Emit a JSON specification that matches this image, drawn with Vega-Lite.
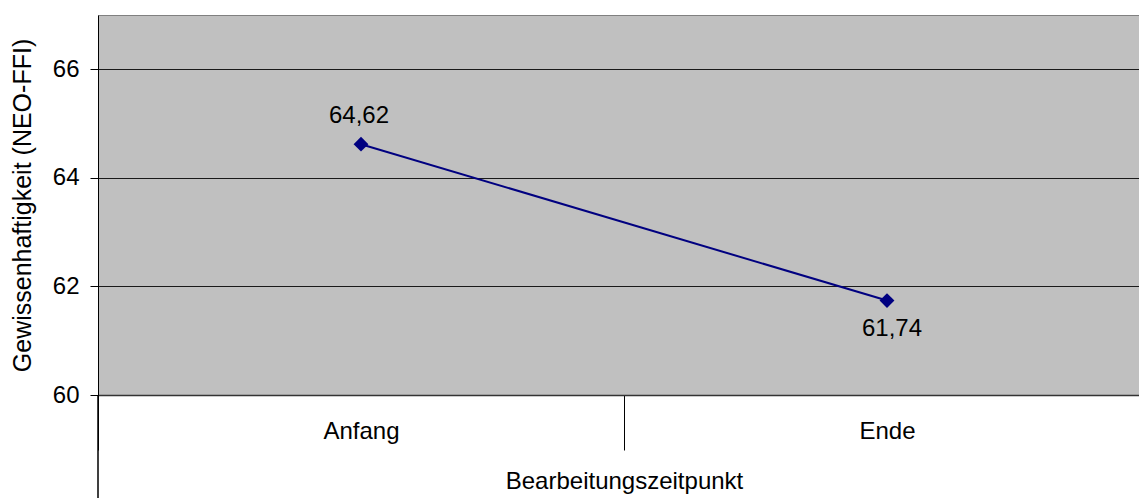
{
  "$schema": "https://vega.github.io/schema/vega-lite/v6.json",
  "autosize": {"type": "none"},
  "padding": {"left": 98, "top": 15, "right": 0, "bottom": 103},
  "width": 1041,
  "height": 380,
  "background": "white",
  "config": {
    "font": "Liberation Sans",
    "view": {"fill": "#C0C0C0", "stroke": "#808080", "strokeWidth": 1}
  },
  "data": {
    "values": [
      {"Zeitpunkt": "Anfang", "Wert": 64.62, "Label": "64,62", "Pos": "oben"},
      {"Zeitpunkt": "Ende", "Wert": 61.74, "Label": "61,74", "Pos": "unten"}
    ]
  },
  "encoding": {
    "x": {
      "field": "Zeitpunkt",
      "type": "nominal",
      "scale": {"type": "band", "range": [0, 1052], "paddingInner": 0, "paddingOuter": 0},
      "axis": {
        "title": "Bearbeitungszeitpunkt",
        "titleFontSize": 24,
        "titleFontWeight": "normal",
        "titleColor": "black",
        "titlePadding": 19,
        "labelAngle": 0,
        "labelFontSize": 24,
        "labelColor": "black",
        "labelPadding": -31,
        "tickBand": "extent",
        "tickSize": 55,
        "tickColor": "black",
        "tickWidth": 1,
        "domainColor": "#333333",
        "domainWidth": 1.5,
        "grid": false
      }
    },
    "y": {
      "field": "Wert",
      "type": "quantitative",
      "scale": {"domain": [60, 67], "nice": false, "zero": false},
      "axis": {
        "title": "Gewissenhaftigkeit (NEO-FFI)",
        "titleFontSize": 25,
        "titleFontWeight": "normal",
        "titleColor": "black",
        "titlePadding": 17,
        "values": [60, 62, 64, 66],
        "labelFontSize": 24,
        "labelColor": "black",
        "labelPadding": 11,
        "tickSize": 8,
        "tickColor": "black",
        "domainColor": "black",
        "grid": true,
        "gridColor": "#1a1a1a",
        "gridOpacity": 1,
        "gridWidth": 1
      }
    }
  },
  "layer": [
    {
      "mark": {"type": "rule", "color": "black", "strokeWidth": 1, "clip": false},
      "encoding": {
        "x": {"datum": "Anfang", "bandPosition": 0},
        "y": {"datum": 60},
        "y2": {"datum": 58.1}
      }
    },
    {
      "mark": {"type": "line", "color": "#000080", "strokeWidth": 2}
    },
    {
      "mark": {"type": "point", "shape": "diamond", "filled": true, "color": "#000080", "opacity": 1, "size": 220}
    },
    {
      "transform": [{"filter": "datum.Pos === 'oben'"}],
      "mark": {"type": "text", "fontSize": 24, "color": "black", "dy": -28, "dx": -2, "baseline": "middle"},
      "encoding": {"text": {"field": "Label"}}
    },
    {
      "transform": [{"filter": "datum.Pos === 'unten'"}],
      "mark": {"type": "text", "fontSize": 24, "color": "black", "dy": 28, "dx": 5, "baseline": "middle"},
      "encoding": {"text": {"field": "Label"}}
    }
  ]
}
